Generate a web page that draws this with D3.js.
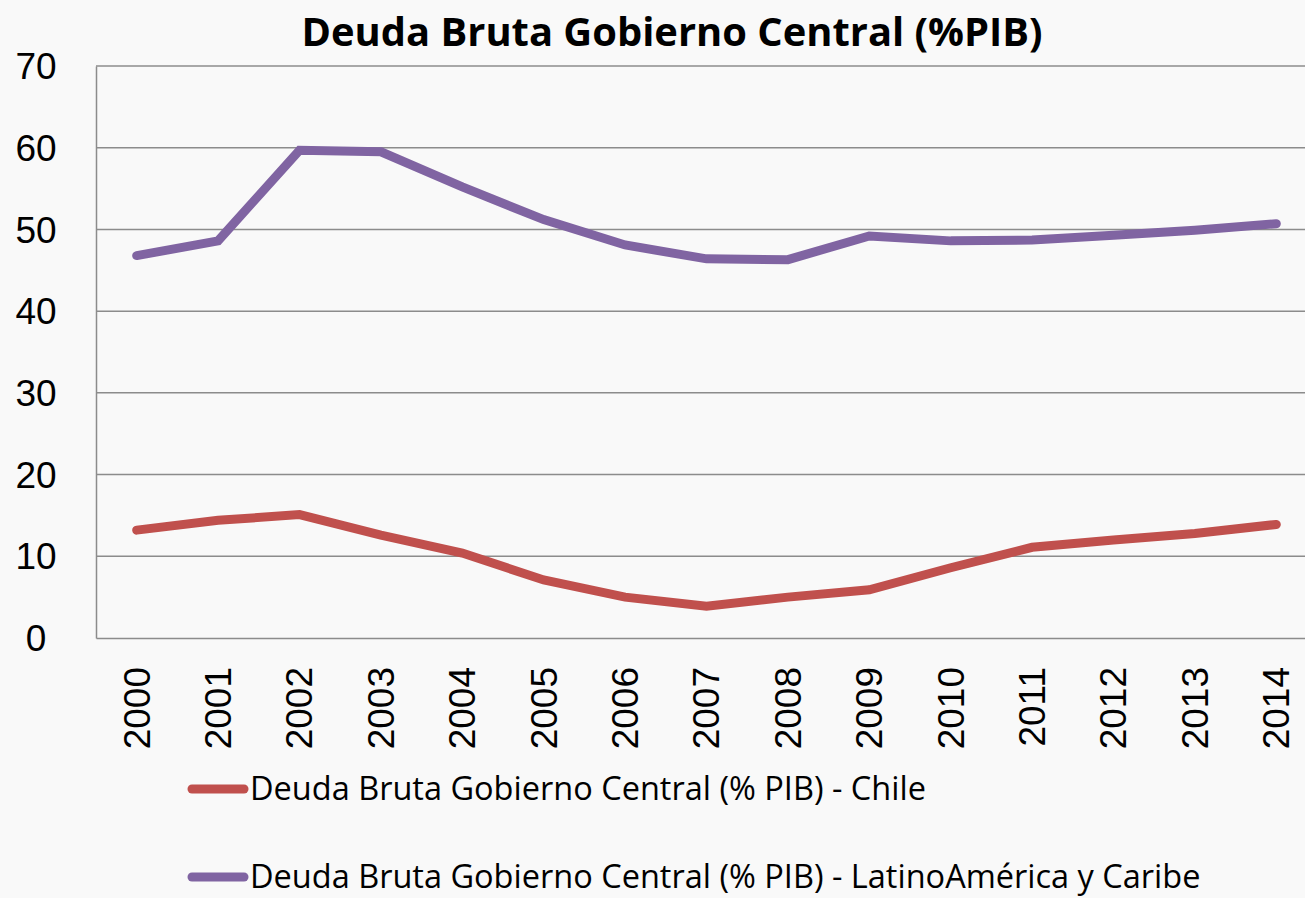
<!DOCTYPE html>
<html>
<head>
<meta charset="utf-8">
<script src="https://cdn.jsdelivr.net/npm/d3@7"></script>
<style>
  body { margin: 0; background: #f9f9f9; overflow: hidden; }
  svg { display: block; }
</style>
</head>
<body>
<div id="chart"></div>
<script>
var years = ["2000", "2001", "2002", "2003", "2004", "2005", "2006", "2007", "2008", "2009", "2010", "2011", "2012", "2013", "2014"];
var chile = [13.2, 14.4, 15.1, 12.6, 10.4, 7.1, 5.0, 3.9, 5.0, 5.9, 8.6, 11.1, 12.0, 12.8, 13.9];
var latam = [46.8, 48.6, 59.7, 59.5, 55.2, 51.2, 48.1, 46.4, 46.3, 49.2, 48.6, 48.7, 49.3, 49.9, 50.7];
var yTicks = [0, 10, 20, 30, 40, 50, 60, 70];
var seriesNames = ["Deuda Bruta Gobierno Central (% PIB) - Chile", "Deuda Bruta Gobierno Central (% PIB) - LatinoAmérica y Caribe"];
var seriesColors = ["#c0504d", "#8064a2"];

var W = 1305, H = 898;
var plotLeft = 96, plotTop = 66, plotW = 15 * 81.4, plotH = 572;

var svg = d3.select("#chart").append("svg").attr("width", W).attr("height", H);
svg.append("rect").attr("width", W).attr("height", H).attr("fill", "#f9f9f9");

var x = d3.scaleBand().domain(years).range([plotLeft, plotLeft + plotW]);
var y = d3.scaleLinear().domain([0, 70]).range([plotTop + plotH, plotTop]);

// gridlines
svg.append("g")
    .selectAll("line")
    .data(yTicks.slice(1))
    .enter()
    .append("line")
    .attr("x1", plotLeft).attr("x2", plotLeft + plotW)
    .attr("y1", function(d) { return y(d); })
    .attr("y2", function(d) { return y(d); })
    .attr("stroke", "#8c8c8c").attr("stroke-width", 1.5);

// y axis
var yAxis = svg.append("g")
    .attr("transform", "translate(" + plotLeft + ",0)")
    .call(d3.axisLeft(y).tickValues(yTicks).tickSize(0).tickPadding(14));
yAxis.select(".domain").attr("stroke", "#8c8c8c").attr("stroke-width", 1.5);
yAxis.selectAll("text")
    .attr("font-family", "Liberation Sans, Arial, sans-serif")
    .attr("font-size", 37).attr("fill", "#000").attr("dy", "0.34em")
    .attr("text-anchor", "middle").attr("x", -60);

// x axis
var xAxis = svg.append("g")
    .attr("transform", "translate(0," + (plotTop + plotH) + ")")
    .call(d3.axisBottom(x).tickSize(0));
xAxis.select(".domain").attr("stroke", "#8c8c8c").attr("stroke-width", 1.5);
xAxis.selectAll("text")
    .attr("font-family", "Liberation Sans, Arial, sans-serif")
    .attr("font-size", 37).attr("fill", "#000")
    .attr("transform", "rotate(-90)")
    .attr("text-anchor", "end")
    .attr("x", -29).attr("y", 0).attr("dy", "0.35em");

// lines
var line = d3.line()
    .x(function(d, i) { return x(years[i]) + x.bandwidth() / 2; })
    .y(function(d) { return y(d); });

[chile, latam].forEach(function(s, i) {
    svg.append("path")
        .datum(s)
        .attr("d", line)
        .attr("fill", "none")
        .attr("stroke", seriesColors[i])
        .attr("stroke-width", 9)
        .attr("stroke-linecap", "round")
        .attr("stroke-linejoin", "miter");
});

// title
svg.append("text")
    .attr("x", 672).attr("y", 46)
    .attr("text-anchor", "middle")
    .attr("font-family", "Open Sans, sans-serif")
    .attr("font-weight", "bold")
    .attr("font-size", 40)
    .attr("textLength", 741)
    .attr("lengthAdjust", "spacingAndGlyphs")
    .text("Deuda Bruta Gobierno Central (%PIB)");

// legend
var legend = svg.append("g");
var legendY = [789, 877];
seriesNames.forEach(function(name, i) {
    legend.append("line")
        .attr("x1", 192).attr("x2", 244)
        .attr("y1", legendY[i]).attr("y2", legendY[i])
        .attr("stroke", seriesColors[i]).attr("stroke-width", 9)
        .attr("stroke-linecap", "round");
    legend.append("text")
        .attr("x", 250).attr("y", legendY[i] + 11)
        .attr("font-family", "Open Sans, sans-serif")
        .attr("font-size", 32.5)
        .attr("fill", "#000")
        .text(name);
});
</script>
</body>
</html>
